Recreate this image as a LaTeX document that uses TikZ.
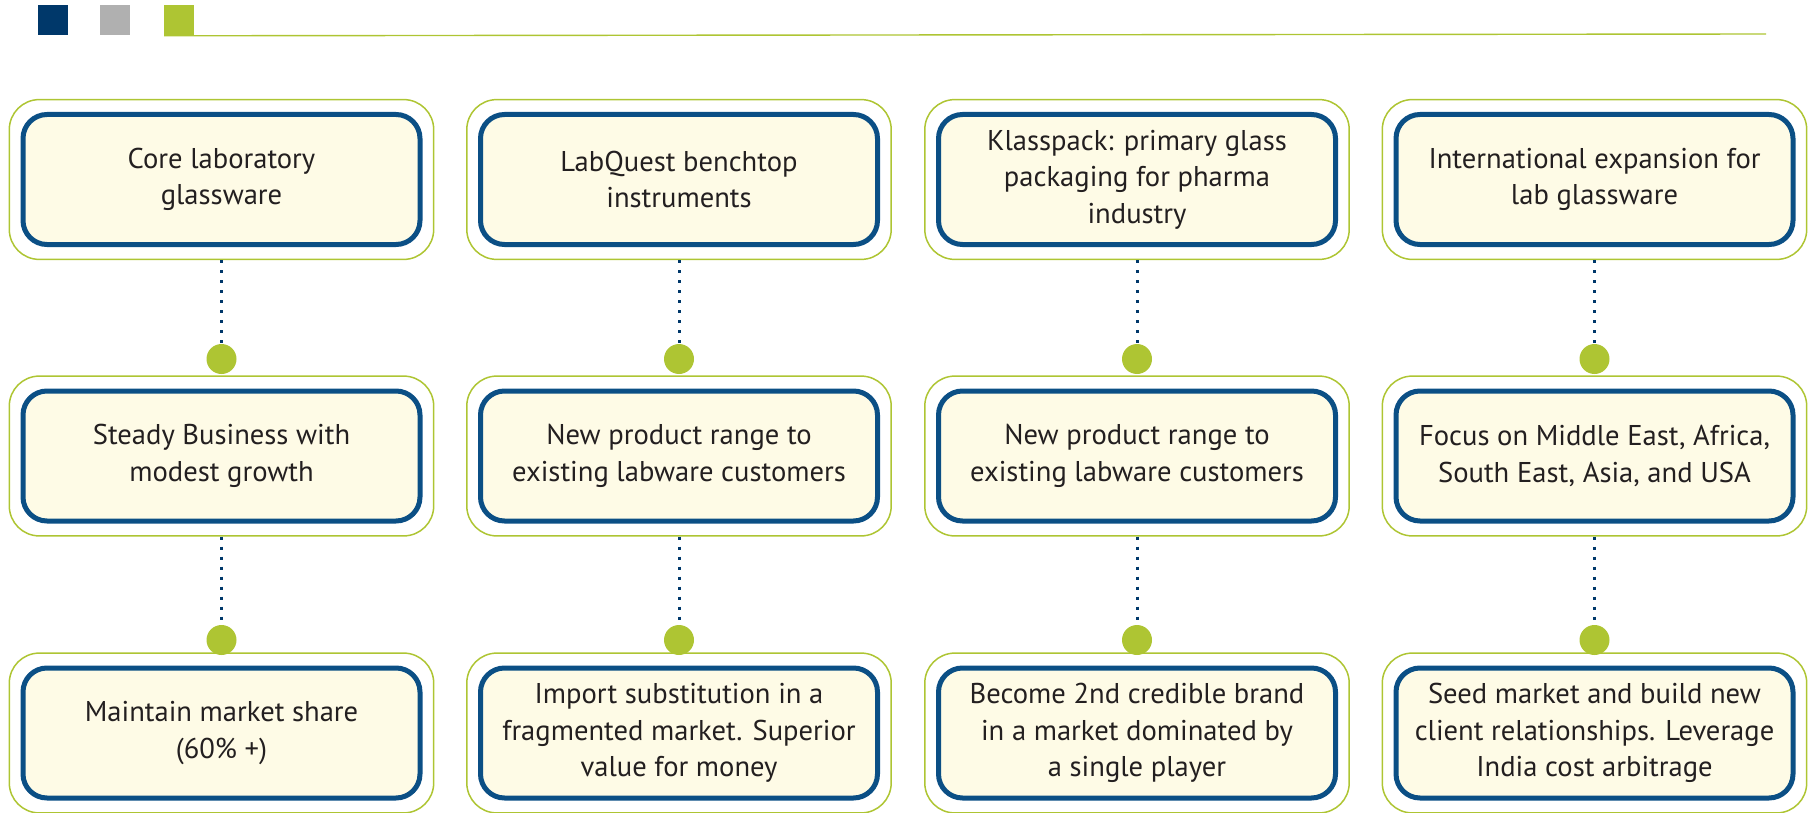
\documentclass[tikz,border=0pt]{standalone}
\usepackage{fontspec}
\setmainfont{PT Sans}
\usepackage{tikz}
\usetikzlibrary{positioning, fit}

\definecolor{navy}{HTML}{00386A}
\definecolor{ashgrey}{HTML}{B0B0B0}
\definecolor{lime}{HTML}{AEC533}
\definecolor{boxblue}{HTML}{0B4F85}
\definecolor{cream}{HTML}{FEFBE6}
\definecolor{ink}{HTML}{231F20}

\tikzset{
    card/.style={draw=boxblue, line width=2.5pt, fill=cream, rounded corners=12pt,
        minimum width=198.5pt, minimum height=65pt, align=center, text=ink,
        font=\fontsize{14.3}{18.3}\selectfont},
    outerframe/.style={draw=lime, line width=0.75pt, rounded corners=15pt,
        inner xsep=5.6pt, inner ysep=6.2pt},
    knob/.style={circle, fill=lime, minimum size=15pt, inner sep=0pt},
    link/.style={draw=navy, line width=1.5pt, dash pattern=on 1.5pt off 3.5pt},
    swatch/.style={minimum size=15pt, inner sep=0pt, anchor=north west}
}

\begin{document}
\begin{tikzpicture}[x=0.5pt, y=-0.5pt]
            \useasboundingbox (0, 0) rectangle (1815, 813);

            % header
            \node [swatch, fill=navy] (sq1) at (38, 5) {};
            \node [swatch, fill=ashgrey] (sq2) at (100, 5) {};
            \node [swatch, fill=lime] (sq3) at (164, 5) {};
            \coordinate (ruleend) at (1766, 34);
            \draw [lime, line width=0.7pt] (sq3.south west) -- (ruleend);

            % first row
            \node [card] (core) at (221.5, 179.5) {Core laboratory\\glassware};
            \node [card] (labquest) at (679, 179.5) {LabQuest benchtop\\instruments};
            \node [card] (klass) at (1137, 179.5) {Klasspack: primary glass\\packaging for pharma\\industry};
            \node [card] (intl) at (1594.5, 179.5) {International expansion for\\lab glassware};

            % second row
            \node [card] (steady) at (221.5, 456) {Steady Business with\\modest growth};
            \node [card] (range1) at (679, 456) {New product range to\\existing labware customers};
            \node [card] (range2) at (1137, 456) {New product range to\\existing labware customers};
            \node [card] (focus) at (1594.5, 456) {Focus on Middle East, Africa,\\South East, Asia, and USA};

            % third row
            \node [card] (share) at (221.5, 733) {Maintain market share\\(60\% +)};
            \node [card] (import) at (679, 733) {Import substitution in a\\fragmented market. Superior\\value for money};
            \node [card] (brand) at (1137, 733) {Become 2nd credible brand\\in a market dominated by\\a single player};
            \node [card] (seed) at (1594.5, 733) {Seed market and build new\\client relationships. Leverage\\India cost arbitrage};

            \foreach \n in {core, labquest, klass, intl, steady, range1, range2, focus, share, import, brand, seed}
                \node [outerframe, fit=(\n)] (\n-f) {};

            % dots
            \node [knob] (d11) at (221.5, 359) {};
            \node [knob] (d12) at (679, 359) {};
            \node [knob] (d13) at (1137, 359) {};
            \node [knob] (d14) at (1594.5, 359) {};
            \node [knob] (d21) at (221.5, 640) {};
            \node [knob] (d22) at (679, 640) {};
            \node [knob] (d23) at (1137, 640) {};
            \node [knob] (d24) at (1594.5, 640) {};

            \draw [link] (core-f.south) -- (d11.north);
            \draw [link] (labquest-f.south) -- (d12.north);
            \draw [link] (klass-f.south) -- (d13.north);
            \draw [link] (intl-f.south) -- (d14.north);
            \draw [link] (steady-f.south) -- (d21.north);
            \draw [link] (range1-f.south) -- (d22.north);
            \draw [link] (range2-f.south) -- (d23.north);
            \draw [link] (focus-f.south) -- (d24.north);
        \end{tikzpicture}
\end{document}
